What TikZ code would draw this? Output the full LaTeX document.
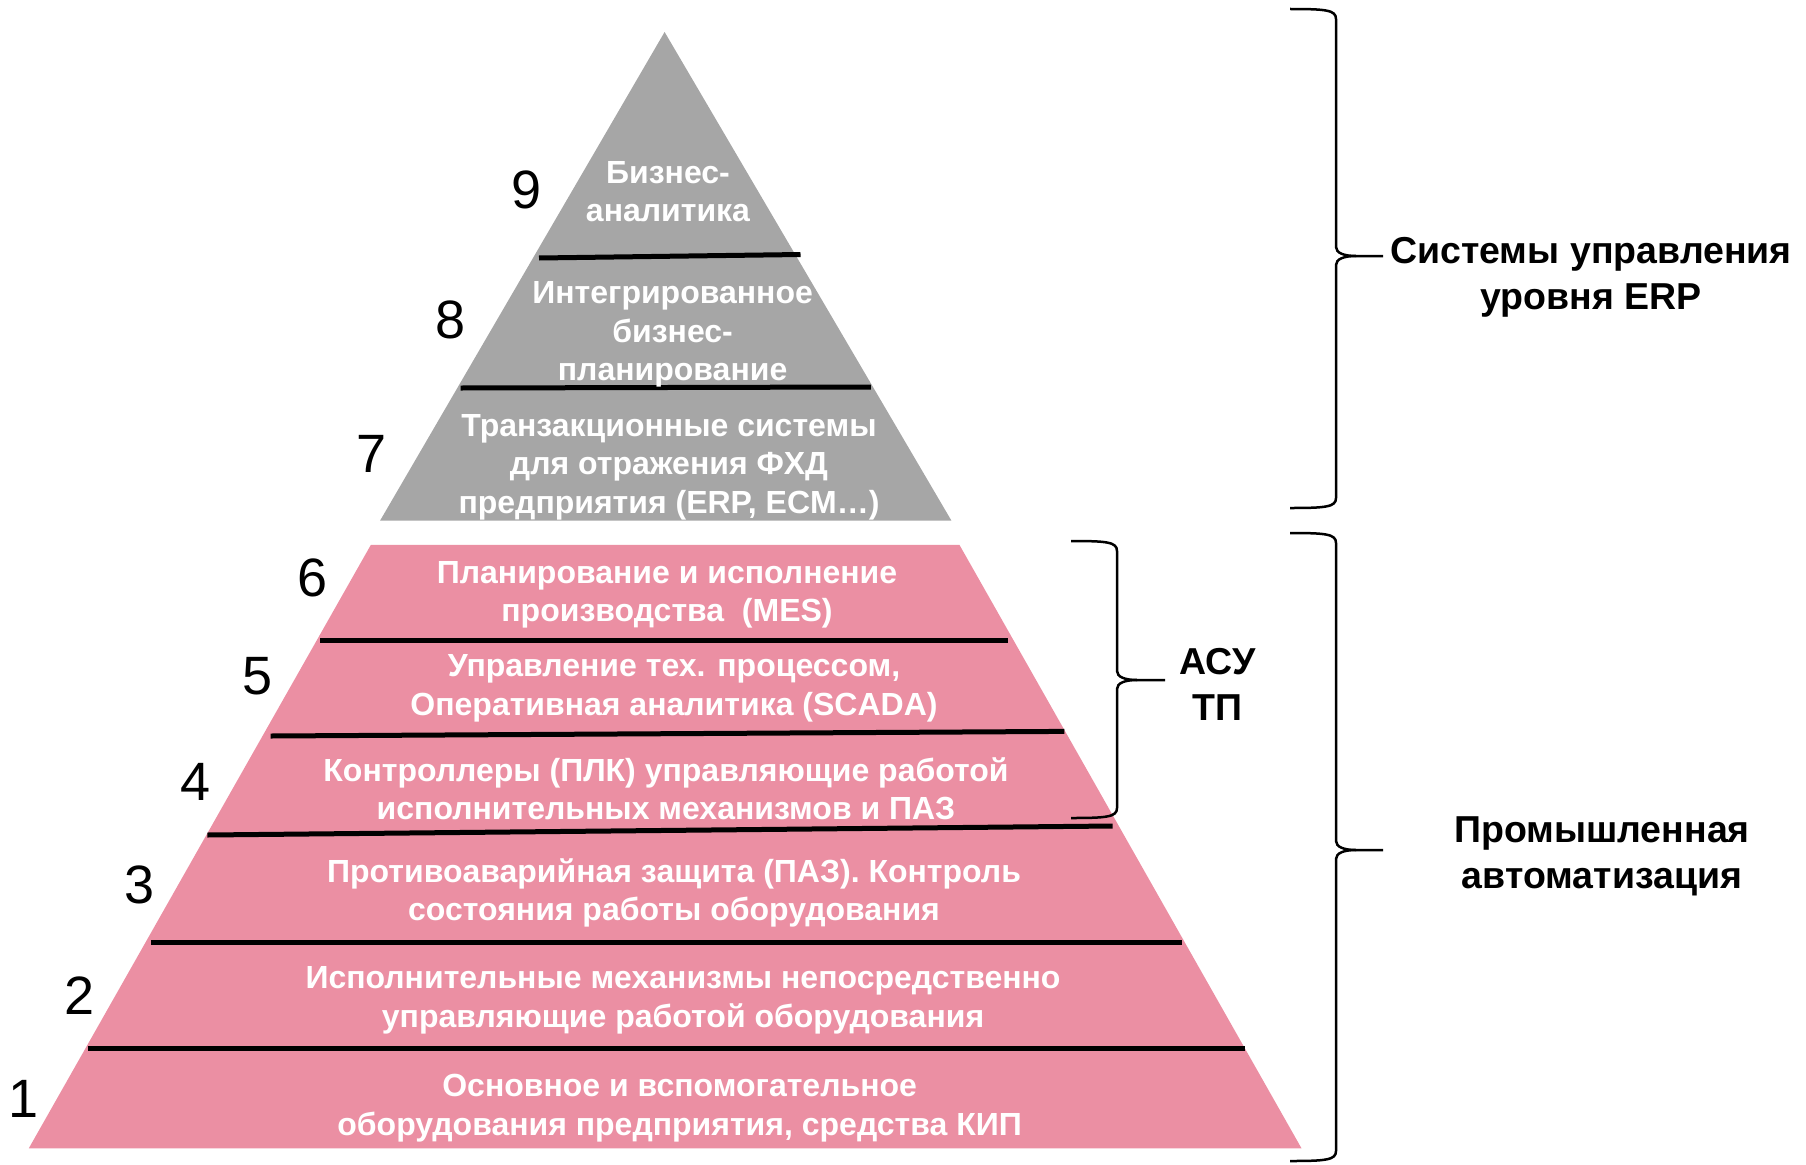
\documentclass[tikz,border=0pt]{standalone}
\usepackage{fontspec}
\setmainfont{Liberation Sans}
\definecolor{erpgray}{RGB}{166,166,166}
\definecolor{pinkc}{RGB}{235,143,163}
\newcommand\curlybr[6]{%
  \draw[brace] (#1,#4) .. controls (#2-10,#4) and (#2,#4+1) .. (#2,#4+10) -- (#2,#5-9)
    .. controls (#2,#5-3) and (#2+8,#5) .. (#2+20,#5) -- (#3,#5);
  \draw[brace] (#2+20,#5) .. controls (#2+8,#5) and (#2,#5+3) .. (#2,#5+9) -- (#2,#6-10)
    .. controls (#2,#6-1) and (#2-10,#6) .. (#1,#6);}
\begin{document}
\begin{tikzpicture}[x=1pt,y=-1pt,
  lvl/.style={text=white,font=\bfseries\fontsize{32}{38.5}\selectfont,align=center,inner sep=0pt},
  num/.style={font=\fontsize{54}{54}\selectfont,inner sep=0pt},
  side/.style={font=\bfseries\fontsize{37.5}{46}\selectfont,align=center,inner sep=0pt},
  divider/.style={line width=5pt},
  brace/.style={line width=2.5pt}]
\useasboundingbox (0,0) rectangle (1806,1164);
% pyramid bodies
\fill[erpgray] (664.6,32) -- (951.4,520.6) -- (380.1,520.6) -- cycle;
\fill[pinkc] (370.9,544.8) -- (959.4,544.8) -- (1301.5,1148.3) -- (28.8,1148.3) -- cycle;
% dividers
\draw[divider] (539,258) -- (800.5,254.5);
\draw[divider] (460.7,388) -- (870.8,387);
\draw[divider] (320,640.4) -- (1007.8,640.4);
\draw[divider] (270.7,736) -- (1064.3,731.4);
\draw[divider] (207.3,835) -- (1112.6,826);
\draw[divider] (150.9,942) -- (1181.7,942);
\draw[divider] (87.5,1048) -- (1245,1048);
% level texts
\node[lvl] (t9) at (668,191.5) {Бизнес-\\аналитика};
\node[lvl] (t8) at (672.6,334.5) {Интегрированное\\бизнес-\\планирование};
\node[lvl] (t7) at (669,467) {Транзакционные системы\\для отражения ФХД\\предприятия (ERP, ECM…)};
\node[lvl] (t6) at (667,595) {Планирование и исполнение\\производства\ \ (MES)};
\node[lvl] (t5) at (674,688.2) {Управление тех. процессом,\\Оперативная аналитика (SCADA)};
\node[lvl] (t4) at (666,788.5) {Контроллеры (ПЛК) управляющие работой\\исполнительных механизмов и ПАЗ};
\node[lvl] (t3) at (674,892.7) {Противоаварийная защита (ПАЗ). Контроль\\состояния работы оборудования};
\node[lvl] (t2) at (683,1000.4) {Исполнительные механизмы непосредственно\\управляющие работой оборудования};
\node[lvl] (t1) at (679.6,1108) {Основное и вспомогательное\\оборудования предприятия, средства КИП};
% numbers
\node[num] (n9) at (527,190) {9};
\node[num] (n8) at (451,320) {8};
\node[num] (n7) at (372,454) {7};
\node[num] (n6) at (313,578) {6};
\node[num] (n5) at (258,676) {5};
\node[num] (n4) at (195.5,782) {4};
\node[num] (n3) at (140,885) {3};
\node[num] (n2) at (80,996) {2};
\node[num] (n1) at (24,1099) {1};
% braces
\curlybr{1290}{1336}{1383}{9}{256}{508}
\curlybr{1290}{1336}{1383}{533}{850}{1161}
\curlybr{1071}{1117}{1165}{541}{680}{818}
% side labels
\node[side] (erp) at (1591,277.5) {Системы управления\\уровня ERP};
\node[side] (asu) at (1217.5,684) {АСУ\\ТП};
\node[side] (pa) at (1602,856.5) {Промышленная\\автоматизация};
\end{tikzpicture}
\end{document}
